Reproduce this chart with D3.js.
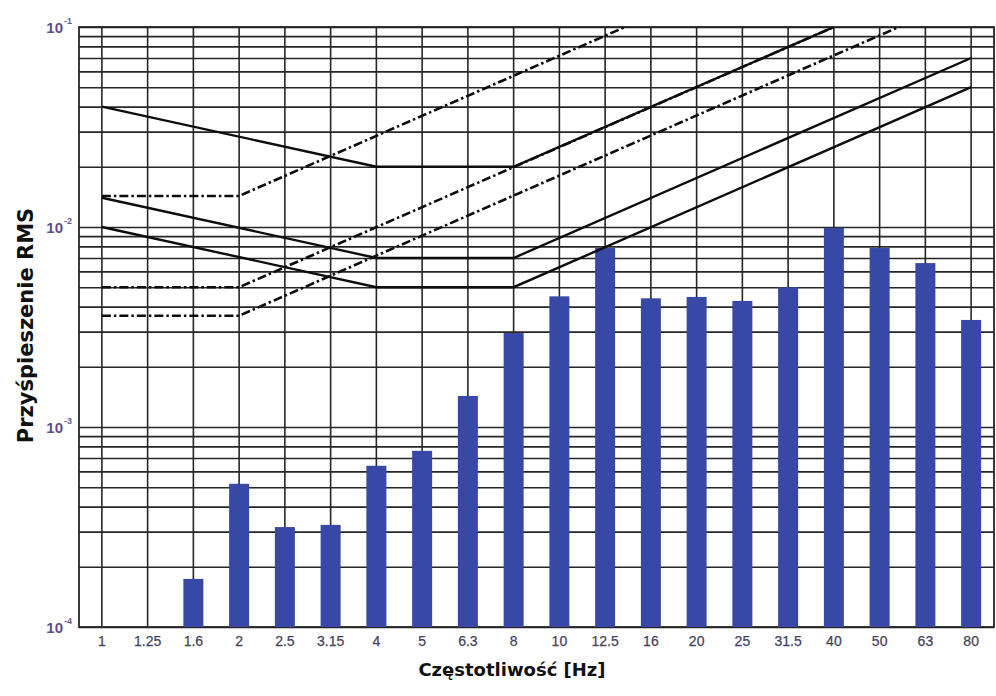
<!DOCTYPE html>
<html>
<head>
<meta charset="utf-8">
<script src="https://cdn.jsdelivr.net/npm/d3@7"></script>
<style>
  html, body { margin: 0; padding: 0; background: #fff; }
  svg { display: block; }
</style>
</head>
<body>
<svg id="chart" width="996" height="696"></svg>
<script>
// ---- data ----
const freqs = ["1","1.25","1.6","2","2.5","3.15","4","5","6.3","8","10","12.5","16","20","25","31.5","40","50","63","80"];
const rmsValues = [null, null, 1.74e-4, 5.2e-4, 3.16e-4, 3.24e-4, 6.4e-4, 7.6e-4, 1.43e-3, 2.95e-3,
                   4.5e-3, 7.85e-3, 4.4e-3, 4.47e-3, 4.27e-3, 5.0e-3, 9.9e-3, 7.85e-3, 6.6e-3, 3.43e-3];
const yTickExponents = [-1, -2, -3, -4];
// solid limit curves (frequency category, acceleration)
const solidCurve1 = [["1", 0.01], ["4", 0.005], ["8", 0.005], ["80", 0.05]];
const solidCurve2 = [["1", 0.014], ["4", 0.007], ["8", 0.007], ["80", 0.07]];
const solidCurve3 = [["1", 0.04], ["4", 0.02], ["8", 0.02], ["40", 0.1]];
// dash-dot limit curves
const dashCurve1 = [["1", 0.0036], ["2", 0.0036], ["80", 0.144]];
const dashCurve2 = [["1", 0.005], ["2", 0.005], ["40", 0.1]];
const dashCurve3 = [["1", 0.0143], ["2", 0.0143], ["80", 0.572]];
const xTitle = "Częstotliwość [Hz]";
const yTitle = "Przyśpieszenie RMS";

// ---- layout ----
const svg = d3.select("#chart");
const pLeft = 79, pRight = 994, pTop = 27, pBottom = 627;

const x = d3.scaleBand().domain(freqs).range([pLeft, pRight]).padding(0);
const bw = x.bandwidth();
const cx = f => x(f) + bw / 2;
const y = d3.scaleLog().domain([1e-4, 1e-1]).range([pBottom, pTop]);

const gridColor = "#262626";

// clip
svg.append("defs").append("clipPath").attr("id", "plotclip")
  .append("rect").attr("x", pLeft).attr("y", pTop).attr("width", pRight - pLeft).attr("height", pBottom - pTop);

// horizontal grid (log ticks) via axis
const yGrid = svg.append("g").attr("transform", `translate(${pLeft},0)`)
  .call(d3.axisLeft(y).ticks(10).tickSize(-(pRight - pLeft)).tickFormat(""));
yGrid.select(".domain").remove();
yGrid.selectAll(".tick line").attr("stroke", gridColor).attr("stroke-width", 1.6);

// vertical grid at category centers
const xGrid = svg.append("g").attr("transform", `translate(0,${pBottom})`)
  .call(d3.axisBottom(x).tickSize(-(pBottom - pTop)).tickFormat(""));
xGrid.select(".domain").remove();
xGrid.selectAll(".tick line").attr("stroke", gridColor).attr("stroke-width", 1.6);

// frame
svg.append("rect").attr("x", pLeft).attr("y", pTop).attr("width", pRight - pLeft).attr("height", pBottom - pTop)
  .attr("fill", "none").attr("stroke", gridColor).attr("stroke-width", 1.8);

// bars
const barW = 20;
svg.append("g").selectAll("rect")
  .data(freqs.map((f, i) => ({ f, v: rmsValues[i] })).filter(d => d.v != null))
  .join("rect")
  .attr("x", d => cx(d.f) - barW / 2)
  .attr("y", d => y(d.v))
  .attr("width", barW)
  .attr("height", d => y(1e-4) - y(d.v))
  .attr("fill", "#3848a6");

// limit curves
const line = d3.line().x(d => cx(d[0])).y(d => y(d[1]));
const curves = svg.append("g").attr("clip-path", "url(#plotclip)");
[solidCurve1, solidCurve2, solidCurve3].forEach(c => {
  curves.append("path").attr("d", line(c)).attr("fill", "none")
    .attr("stroke", "#0d0d0d").attr("stroke-width", 2.4);
});
[dashCurve1, dashCurve2, dashCurve3].forEach(c => {
  curves.append("path").attr("d", line(c)).attr("fill", "none")
    .attr("stroke", "#0d0d0d").attr("stroke-width", 2.6)
    .attr("stroke-dasharray", "9,3,2.5,3");
});

// x tick labels
const xLab = svg.append("g").attr("transform", `translate(0,${pBottom})`)
  .call(d3.axisBottom(x).tickSize(0).tickPadding(9));
xLab.select(".domain").remove();
xLab.selectAll("text")
  .attr("font-family", "Liberation Sans, Arial, sans-serif")
  .attr("font-size", 14)
  .attr("fill", "#46425c")
  .attr("stroke", "#46425c")
  .attr("stroke-width", 0.25);

// y tick labels with superscripts
const yLab = svg.append("g");
yTickExponents.forEach(e => {
  yLab.append("text")
    .attr("x", 63).attr("y", y(Math.pow(10, e)) + 6)
    .attr("text-anchor", "end")
    .attr("font-family", "Liberation Sans, Arial, sans-serif")
    .attr("font-weight", "bold")
    .attr("font-size", 15)
    .attr("fill", "#5e4f8c")
    .text("10");
  yLab.append("text")
    .attr("x", 64).attr("y", y(Math.pow(10, e)) - 3)
    .attr("font-family", "Liberation Sans, Arial, sans-serif")
    .attr("font-weight", "bold")
    .attr("font-size", 9)
    .attr("fill", "#6a5a9a")
    .text(String(e));
});

// axis titles
svg.append("text")
  .attr("x", 512).attr("y", 676)
  .attr("text-anchor", "middle")
  .attr("font-family", "DejaVu Sans, sans-serif")
  .attr("font-weight", "bold")
  .attr("font-size", 18)
  .attr("fill", "#111")
  .text(xTitle);

svg.append("text")
  .attr("transform", `translate(33,${(206 + 445) / 2}) rotate(-90)`)
  .attr("text-anchor", "middle")
  .attr("font-family", "DejaVu Sans, sans-serif")
  .attr("font-weight", "bold")
  .attr("font-size", 21)
  .attr("fill", "#111")
  .text(yTitle);
</script>
</body>
</html>
